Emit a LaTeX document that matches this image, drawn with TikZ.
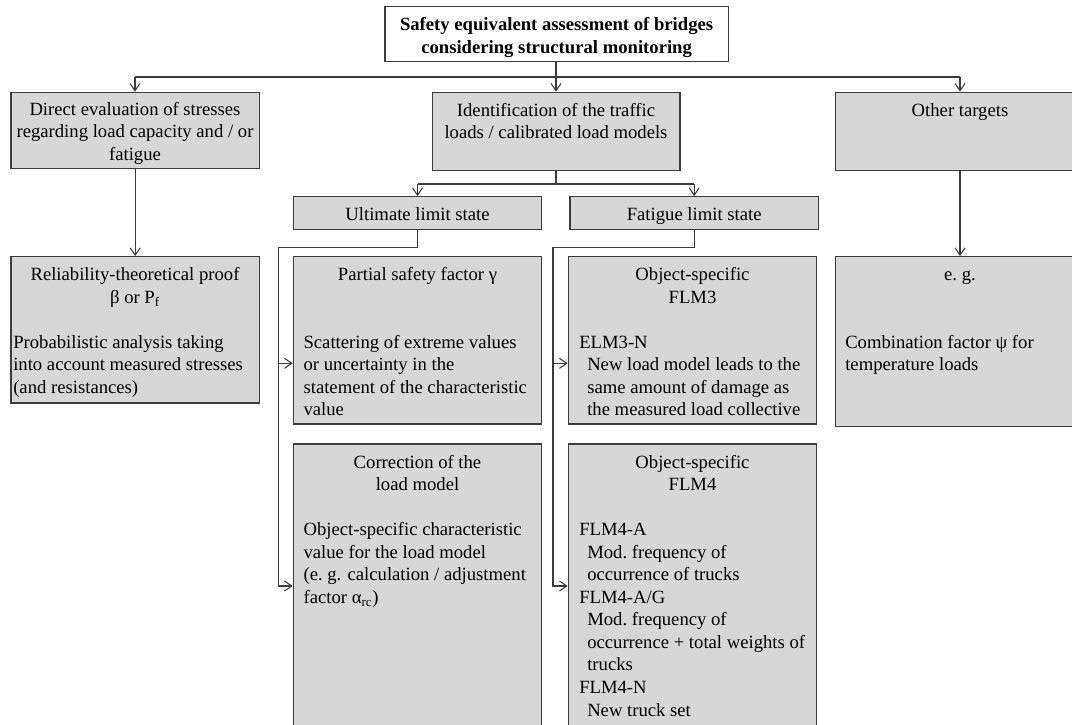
\documentclass[tikz,border=0pt]{standalone}
\usepackage{fontspec}
\setmainfont{Liberation Serif}
\usetikzlibrary{arrows.meta,fit}
\definecolor{boxgray}{RGB}{215,215,215}
\definecolor{linegray}{RGB}{60,60,60}
\begin{document}
\begin{tikzpicture}[x=0.75pt,y=-0.75pt,
  box/.style={draw=linegray, fill=boxgray, line width=0.9pt, inner sep=0pt},
  txt/.style={inner sep=0pt, font=\fontsize{14}{16.9}\selectfont, text=black},
  ctxt/.style={txt, align=center, anchor=north},
  ltxt/.style={txt, align=left, anchor=north west},
  conn/.style={draw=linegray, line width=0.8pt},
  arr/.style={conn, -{Straight Barb[length=5.5pt,width=7.5pt]}}]
\useasboundingbox (0,0) rectangle (1072,725);
\clip (0,0) rectangle (1072,725);
\fill[white] (0,0) rectangle (1072,725);

% boxes
\node[box, fill=white, fit={(385,6.7) (728.3,61.7)}] (top) {};
\node[box, fit={(11,92.3) (259.3,168.3)}] (direct) {};
\node[box, fit={(432.3,92.3) (680,170.7)}] (ident) {};
\node[box, fit={(835.7,92.3) (1084,170.7)}] (other) {};
\node[box, fit={(293.3,196.7) (541.7,229.3)}] (uls) {};
\node[box, fit={(570,196.7) (818.3,229.3)}] (fls) {};
\node[box, fit={(11,256.7) (259.3,403)}] (rel) {};
\node[box, fit={(293.3,256.7) (541.7,424)}] (partial) {};
\node[box, fit={(568.3,256.7) (816.7,424)}] (flm3) {};
\node[box, fit={(835.7,256.7) (1084,426.7)}] (eg) {};
\node[box, fit={(293.3,444) (541.7,745)}] (corr) {};
\node[box, fit={(568.3,444) (816.7,745)}] (flm4) {};

% texts
\node[ctxt, font=\fontsize{14}{17.5}\selectfont\bfseries] (ttop) at (556.6,13.5)
  {\strut Safety equivalent assessment of bridges\\considering structural monitoring};
\node[ctxt] (tdirect) at (135,99.2)
  {\strut Direct evaluation of stresses\\regarding load capacity and / or\\fatigue};
\node[ctxt] (tident) at (556,100.2)
  {\strut Identification of the traffic\\loads / calibrated load models};
\node[ctxt] (tother) at (960,100.2) {\strut Other targets};
\node[ctxt] (tuls) at (417.5,204.2) {\strut Ultimate limit state};
\node[ctxt] (tfls) at (694.2,204.2) {\strut Fatigue limit state};

\node[ctxt] (trelh) at (135,264.7)
  {\strut Reliability-theoretical proof\\β or P\textsubscript{f}};
\node[ltxt] (trelb) at (13,332.2)
  {\strut Probabilistic analysis taking\\into account measured stresses\\(and resistances)};

\node[ctxt] (tparh) at (417.5,264.7) {\strut Partial safety factor γ};
\node[ltxt] (tparb) at (303.3,332.2)
  {\strut Scattering of extreme values\\or uncertainty in the\\statement of the characteristic\\value};

\node[ctxt] (tf3h) at (692.5,264.7) {\strut Object-specific\\FLM3};
\node[ltxt] (tf3b) at (579,332.2)
  {\strut ELM3-N\\\hspace*{6pt}New load model leads to the\\\hspace*{6pt}same amount of damage as\\\hspace*{6pt}the measured load collective};

\node[ctxt] (tegh) at (960,264.7) {\strut e.\ g.};
\node[ltxt] (tegb) at (845,332.2)
  {\strut Combination factor ψ for\\temperature loads};

\node[ctxt] (tcorh) at (417.5,452.2) {\strut Correction of the\\load model};
\node[ltxt] (tcorb) at (303.3,519.7)
  {\strut Object-specific characteristic\\value for the load model\\(e.\ g. calculation / adjustment\\factor α\textsubscript{rc})};

\node[ctxt] (tf4h) at (692.5,452.2) {\strut Object-specific\\FLM4};
\node[ltxt] (tf4b) at (579,519.7)
  {\strut FLM4-A\\\hspace*{6pt}Mod.\ frequency of\\\hspace*{6pt}occurrence of trucks\\FLM4-A/G\\\hspace*{6pt}Mod.\ frequency of\\\hspace*{6pt}occurrence + total weights of\\\hspace*{6pt}trucks\\FLM4-N\\\hspace*{6pt}New truck set};

% connectors
\coordinate (jl) at (135,77);
\coordinate (jm) at (556,77);
\coordinate (jr) at (960,77);
\draw[conn] (jm |- top.south) -- (jm);
\draw[conn] (jl) -- (jr);
\draw[arr] (jl) -- (jl |- direct.north);
\draw[arr] (jm) -- (jm |- ident.north);
\draw[arr] (jr) -- (jr |- other.north);
\draw[arr] (direct.south) -- (rel.north);
\draw[arr] (jr |- other.south) -- (jr |- eg.north);

\coordinate (k1) at (417.5,184);
\coordinate (k2) at (694.2,184);
\draw[conn] (jm |- ident.south) -- (jm |- k1);
\draw[conn] (k1) -- (k2);
\draw[arr] (k1) -- (k1 |- uls.north);
\draw[arr] (k2) -- (k2 |- fls.north);

\coordinate (u1) at (278.5,247.3);
\coordinate (ua) at (278.5,363.3);
\coordinate (u2) at (278.5,586);
\draw[arr] (uls.south) |- (u1) -- (u2) -- (u2 -| corr.west);
\draw[arr] (ua) -- (ua -| partial.west);

\coordinate (f1) at (553,247.3);
\coordinate (fa) at (553,363.3);
\coordinate (f2) at (553,586);
\draw[arr] (fls.south) |- (f1) -- (f2) -- (f2 -| flm4.west);
\draw[arr] (fa) -- (fa -| flm3.west);
\end{tikzpicture}
\end{document}
